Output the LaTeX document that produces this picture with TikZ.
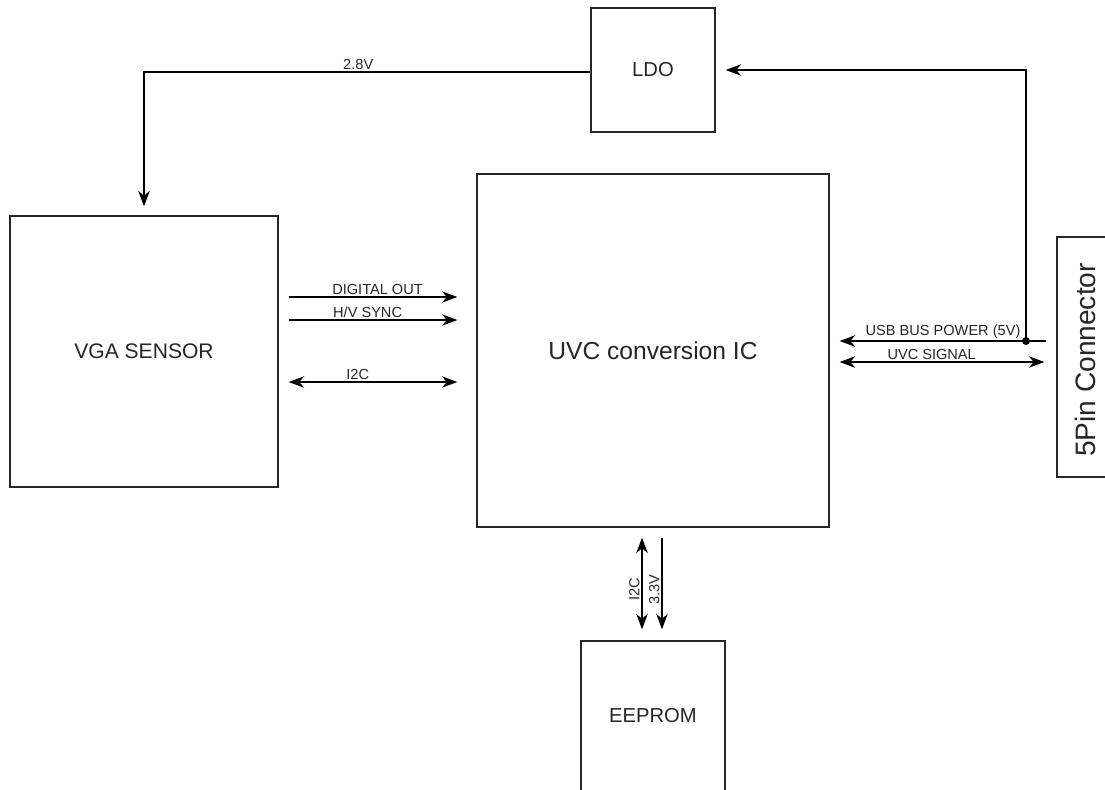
\documentclass[tikz,border=0pt]{standalone}
\usepackage{fontspec}
\setmainfont{Liberation Sans}
\usepackage{tikz}
\usetikzlibrary{arrows.meta}
\tikzset{
  blk/.style={draw=black!85, line width=0.8pt, fill=white, inner sep=0pt,
              font=\fontsize{12}{14}\selectfont, text=black!85},         % block
  sig/.style={draw=black, line width=0.75pt, -{Stealth[length=3.1mm, width=2.3mm, inset=1mm]}}, % one way
  bsig/.style={draw=black, line width=0.75pt,
               {Stealth[length=3.1mm, width=2.3mm, inset=1mm]}-{Stealth[length=3.1mm, width=2.3mm, inset=1mm]}}, % both ways
  lbl/.style={font=\fontsize{8.3}{9}\selectfont, text=black!85, inner sep=1pt},
}

\begin{document}
\begin{tikzpicture}[x=0.02cm, y=-0.02cm]
  % one unit = one pixel of the reference
  \useasboundingbox (0,0) rectangle (1105,789);
  \clip (0,0) rectangle (1105,789);
  % ---------------- blocks ----------------
  \node[blk, minimum width=2.48cm, minimum height=2.48cm,
        font=\fontsize{11.5}{13}\selectfont]               (ldo)    at (653,70)    {LDO};
  \node[blk, minimum width=5.36cm, minimum height=5.42cm]  (vga)    at (144,351.5) {VGA SENSOR};
  \node[blk, minimum width=7.04cm, minimum height=7.06cm,
        font=\fontsize{14}{16}\selectfont]                 (uvc)    at (653,350.5) {UVC conversion IC};
  \node[blk, minimum width=2.88cm, minimum height=3.0cm,
        font=\fontsize{11.5}{13}\selectfont]               (eeprom) at (653,716)   {EEPROM};
  \node[blk, minimum width=1.04cm, minimum height=4.8cm]  (conn)   at (1083,357)  {};
  \node[font=\fontsize{16}{18}\selectfont, text=black!85, rotate=90] (connlbl) at (1085,360) {5Pin Connector};
  \coordinate (tap) at (1026,341);
  % ---------------- power ----------------
  \draw[sig, shorten >=1.8mm] (ldo.west |- 0,72) -| (vga.north)
    node[lbl, pos=0.26, above] {2.8V};
  \draw[sig, shorten >=2mm] (tap) |- (ldo.east);
  \draw[sig, shorten <=2mm, shorten >=2mm] (conn.west |- 0,341) -- (uvc.east |- 0,341)
    node[lbl, midway, above] {USB BUS POWER (5V)};
  \fill (tap) circle (0.8mm);
  % ---------------- signals ----------------
  \draw[bsig, shorten <=2mm, shorten >=2.4mm] (uvc.east |- 0,362) -- (conn.west |- 0,362)
    node[lbl, pos=0.45, above] {UVC SIGNAL};
  \draw[sig, shorten <=2mm, shorten >=3.8mm] (vga.east |- 0,297) -- (uvc.west |- 0,297)
    node[lbl, midway, above] {DIGITAL OUT};
  \draw[sig, shorten <=2mm, shorten >=3.8mm] (vga.east |- 0,320) -- (uvc.west |- 0,320)
    node[lbl, pos=0.45, above] {H/V SYNC};
  \draw[bsig, shorten <=2mm, shorten >=3.8mm] (vga.east |- 0,382) -- (uvc.west |- 0,382)
    node[lbl, pos=0.4, above] {I2C};
  \draw[bsig, shorten <=2mm, shorten >=2.2mm] (uvc.south -| 642,0) -- (eeprom.north -| 642,0)
    node[lbl, pos=0.55, anchor=south, rotate=90] {I2C};
  \draw[sig, shorten <=2mm, shorten >=2.2mm] (uvc.south -| 662,0) -- (eeprom.north -| 662,0)
    node[lbl, pos=0.55, anchor=south, rotate=90] {3.3V};
\end{tikzpicture}
\end{document}
